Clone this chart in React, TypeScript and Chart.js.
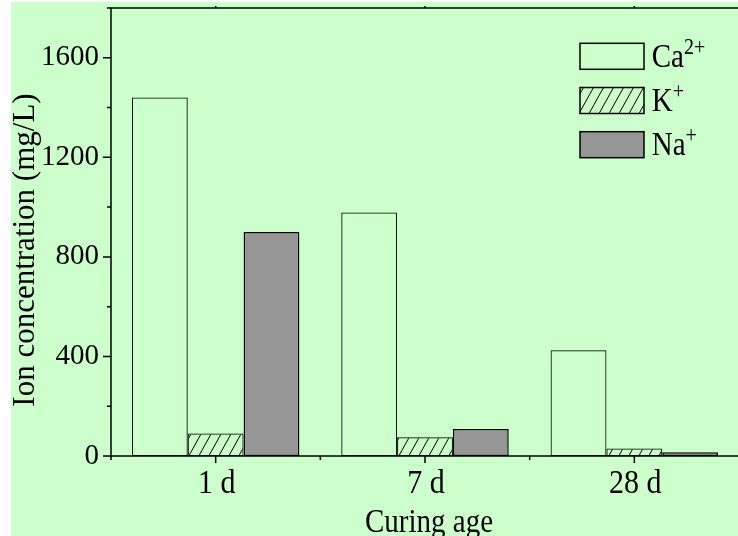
import { useEffect, useRef } from 'react';
import { Chart, registerables } from 'chart.js';

Chart.register(...registerables);

// ---- data ----
const categories = ['1 d', '7 d', '28 d'];
const caValues = [1440, 978, 425];
const kValues = [90, 75, 30];
const naValues = [900, 108, 15];
const ionNames = ['Ca', 'K', 'Na'];
const ionCharges = ['2+', '+', '+'];
const yMin = 0;
const yMax = 1800;
const yStep = 200;
const yLabelStep = 400;
const xTitle = 'Curing age';
const yTitle = 'Ion concentration (mg/L)';

const FONT = '"Liberation Serif", "Times New Roman", serif';

function makeHatch(ctx: CanvasRenderingContext2D) {
  const W = 10;
  const H = 18;
  const p = document.createElement('canvas');
  p.width = W;
  p.height = H;
  const c = p.getContext('2d')!;
  c.strokeStyle = '#000';
  c.lineWidth = 1;
  c.beginPath();
  for (const x0 of [-W, 0, W]) {
    c.moveTo(x0, H);
    c.lineTo(x0 + W, 0);
  }
  c.stroke();
  return ctx.createPattern(p, 'repeat')!;
}

function stretchText(
  ctx: CanvasRenderingContext2D,
  text: string,
  x: number,
  y: number,
  size: number,
  sy: number,
  align: CanvasTextAlign
) {
  ctx.save();
  ctx.font = `${size}px ${FONT}`;
  ctx.textAlign = align;
  ctx.textBaseline = 'alphabetic';
  ctx.translate(x, y);
  ctx.scale(1, sy);
  ctx.fillText(text, 0, 0);
  const w = ctx.measureText(text).width;
  ctx.restore();
  return w;
}

const framePlugin = {
  id: 'frame',
  afterDatasetsDraw(chart: any) {
    const { ctx, chartArea: a, scales } = chart;
    const xs = scales.x;
    const ys = scales.y;
    ctx.save();
    ctx.strokeStyle = '#000';
    ctx.lineWidth = 1.5;
    ctx.strokeRect(a.left, a.top, a.right - a.left, a.bottom - a.top);
    ctx.beginPath();
    for (let v = yMin; v <= yMax; v += yStep) {
      const py = ys.getPixelForValue(v);
      const len = v % yLabelStep === 0 ? 8 : 4;
      ctx.moveTo(a.left - len, py);
      ctx.lineTo(a.left, py);
    }
    const n = categories.length;
    for (let i = 0; i < n; i++) {
      const px = xs.getPixelForValue(i);
      ctx.moveTo(px, a.bottom);
      ctx.lineTo(px, a.bottom + 7);
      ctx.moveTo(px, a.top);
      ctx.lineTo(px, a.top - 2);
    }
    for (let i = 0; i <= n; i++) {
      const px = xs.getPixelForValue(i - 0.5);
      ctx.moveTo(px, a.bottom);
      ctx.lineTo(px, a.bottom + 4);
    }
    ctx.stroke();
    ctx.restore();
  },
  afterDraw(chart: any) {
    const { ctx, chartArea: a, scales } = chart;
    const xs = scales.x;
    ctx.save();
    ctx.fillStyle = '#000';
    // x tick labels (stretched like the original)
    xs.ticks.forEach((t: any, i: number) => {
      const px = xs.getPixelForTick(i);
      stretchText(ctx, String(xs.getLabelForValue(t.value)), px + 1, a.bottom + 36.7, 30, 1.15, 'center');
    });
    // y title
    ctx.font = `31px ${FONT}`;
    ctx.textAlign = 'center';
    ctx.textBaseline = 'alphabetic';
    ctx.save();
    ctx.translate(a.left - 77.5, (a.top + a.bottom) / 2 + 18);
    ctx.rotate(-Math.PI / 2);
    ctx.fillText(yTitle, 0, 0);
    ctx.restore();
    // x title
    stretchText(ctx, xTitle, (a.left + a.right) / 2 + 4, a.bottom + 76, 29, 1.18, 'center');

    // legend
    const lx = a.right - 159;
    const ly0 = a.top + 35.3;
    const gap = 44.2;
    const bw = 64;
    const bh = 26;
    chart.data.datasets.forEach((ds: any, i: number) => {
      const by = ly0 + i * gap;
      ctx.fillStyle = ds.backgroundColor;
      ctx.fillRect(lx, by, bw, bh);
      ctx.strokeStyle = '#000';
      ctx.lineWidth = 1.5;
      ctx.strokeRect(lx, by, bw, bh);
      ctx.fillStyle = '#000';
      const tx = lx + bw + 7.7;
      const base = by + 23.4;
      const w = stretchText(ctx, ionNames[i], tx, base, 29, 1.14, 'left');
      stretchText(ctx, ionCharges[i], tx + w, base - 13, 20, 1.2, 'left');
    });
    ctx.restore();
  },
};

export default function App() {
  const ref = useRef<HTMLCanvasElement>(null);
  useEffect(() => {
    const canvas = ref.current!;
    const ctx = canvas.getContext('2d')!;
    const hatch = makeHatch(ctx);
    const chart = new Chart(canvas, {
      type: 'bar',
      data: {
        labels: categories,
        datasets: [
          {
            label: 'Ca2+',
            data: caValues,
            backgroundColor: 'rgba(0,0,0,0)',
            borderColor: '#000',
            borderWidth: 1,
            borderSkipped: false,
          },
          {
            label: 'K+',
            data: kValues,
            backgroundColor: hatch as any,
            borderColor: '#000',
            borderWidth: 1,
            borderSkipped: false,
          },
          {
            label: 'Na+',
            data: naValues,
            backgroundColor: '#969696',
            borderColor: '#000',
            borderWidth: 1.5,
            borderSkipped: false,
          },
        ],
      },
      options: {
        responsive: false,
        animation: false,
        devicePixelRatio: 1,
        layout: { padding: { top: 6, right: 2, left: 0, bottom: 0 } },
        datasets: { bar: { categoryPercentage: 0.8, barPercentage: 1.0 } },
        plugins: { legend: { display: false }, tooltip: { enabled: false } },
        scales: {
          x: {
            type: 'category',
            grid: { display: false, drawTicks: false },
            border: { display: false },
            ticks: { display: false, autoSkip: false },
            afterFit: (s: any) => {
              s.height = 80;
              s.paddingLeft = 0;
              s.paddingRight = 0;
            },
          },
          y: {
            min: yMin,
            max: yMax,
            grid: { display: false, drawTicks: false },
            border: { display: false },
            ticks: {
              stepSize: yStep,
              autoSkip: false,
              color: '#000',
              font: { family: FONT, size: 29 },
              padding: 12,
              callback: (v: any) => (Number(v) % yLabelStep === 0 ? String(v) : ''),
            },
            afterFit: (s: any) => {
              s.width = 100;
              s.paddingTop = 0;
              s.paddingBottom = 0;
            },
          },
        },
      },
      plugins: [framePlugin],
    });
    return () => chart.destroy();
  }, []);

  return (
    <div
      style={{
        position: 'fixed',
        left: 0,
        top: 0,
        width: 738,
        height: 536,
        overflow: 'hidden',
        background: '#ffffff',
      }}
    >
      <div style={{ position: 'absolute', left: 11, top: 2, width: 730, height: 534, background: '#ccffcc' }}>
        <canvas ref={ref} width={730} height={534} style={{ display: 'block' }} />
      </div>
    </div>
  );
}
